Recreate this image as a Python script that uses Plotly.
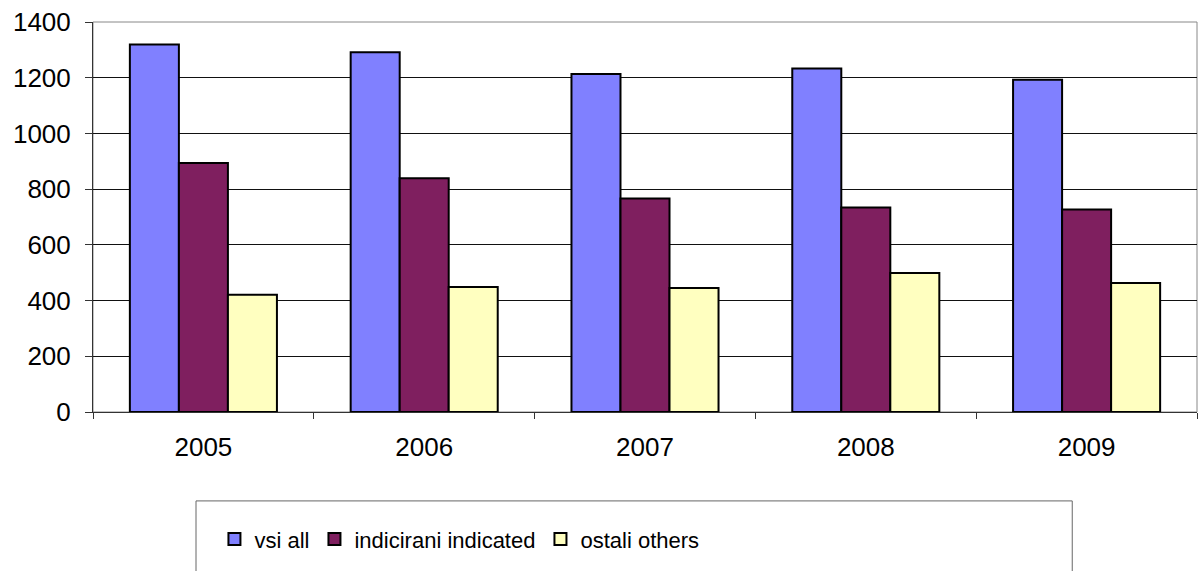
import plotly.graph_objects as go

years = ["2005", "2006", "2007", "2008", "2009"]
vsi_all = [1319, 1291, 1213, 1233, 1193]
indicated = [894, 839, 766, 734, 727]
others = [421, 449, 445, 499, 463]
y_ticks = [0, 200, 400, 600, 800, 1000, 1200, 1400]

series = [
    ("vsi all", vsi_all, "#8080FF"),
    ("indicirani indicated", indicated, "#7F1F5F"),
    ("ostali others", others, "#FFFFC0"),
]

fig = go.Figure()
for name, vals, col in series:
    fig.add_trace(go.Bar(
        x=years, y=vals, name=name,
        marker=dict(color=col, line=dict(color="black", width=2)),
    ))

fig.update_layout(
    width=1198, height=571,
    margin=dict(l=93, r=1, t=22, b=159, autoexpand=False),
    paper_bgcolor="white", plot_bgcolor="white",
    barmode="group", bargap=0.334, bargroupgap=0,
    font=dict(family="Liberation Sans, Arial, sans-serif", color="black", size=26),
    showlegend=True,
    legend=dict(
        orientation="h", x=0.11, xanchor="left", y=-0.326, yanchor="middle",
        font=dict(family="Liberation Sans, Arial, sans-serif", size=22),
        bgcolor="rgba(0,0,0,0)", borderwidth=0, itemwidth=30,
        traceorder="normal",
    ),
    shapes=[
        dict(type="rect", xref="paper", yref="paper", x0=0, x1=1, y0=0, y1=1,
             line=dict(color="#888888", width=1), layer="below"),
        dict(type="rect", xref="paper", yref="paper", x0=0.0933, x1=0.887, y0=-0.228, y1=-0.45,
             line=dict(color="#666666", width=1), layer="above"),
    ],
)

fig.update_yaxes(
    range=[0, 1400], tickvals=y_ticks, ticktext=[str(v) for v in y_ticks],
    showgrid=True, gridcolor="#111111", gridwidth=1,
    showline=True, linecolor="#333333", linewidth=1,
    ticks="outside", ticklen=7, tickcolor="#333333",
    tickfont=dict(size=26), ticklabelstandoff=9,
    zeroline=False, automargin=False,
)
fig.update_xaxes(
    type="category", tickson="boundaries",
    showline=True, linecolor="#333333", linewidth=1,
    ticks="outside", ticklen=6, tickcolor="#333333",
    tickfont=dict(size=26), ticklabelstandoff=12,
    showgrid=False, automargin=False,
)

fig.write_html(
    "out.html",
    config={"displayModeBar": False},
    post_script="document.body.style.margin='0';document.body.style.overflow='hidden';",
)
